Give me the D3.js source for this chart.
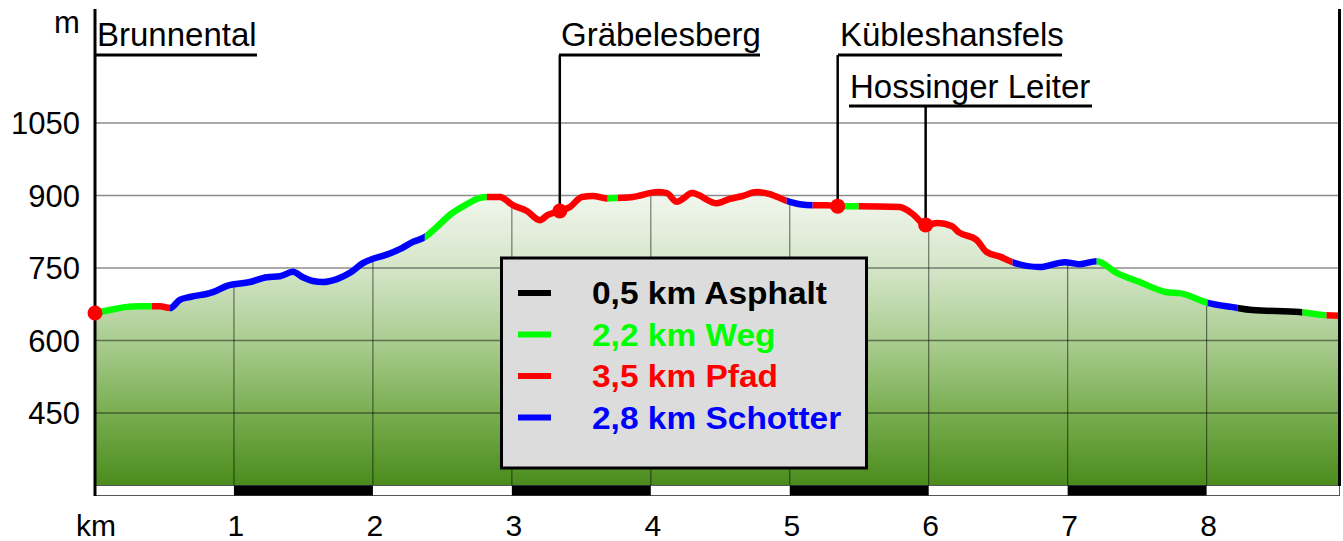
<!DOCTYPE html>
<html>
<head>
<meta charset="utf-8">
<script src="https://cdn.jsdelivr.net/npm/d3@7"></script>
<style>
  html, body { margin: 0; padding: 0; background: #fff; }
  svg { display: block; }
  text { font-family: "Liberation Sans", Arial, sans-serif; }
</style>
</head>
<body>
<svg id="chart" width="1343" height="541"></svg>
<script>
// ---------- data ----------
const profileKm   = [0, 0.108, 0.216, 0.324, 0.41, 0.468, 0.54, 0.61, 0.683, 0.849, 0.95, 1.115, 1.237, 1.331, 1.424, 1.496, 1.568, 1.64, 1.741, 1.835, 1.928, 2.0, 2.072, 2.194, 2.288, 2.374, 2.46, 2.554, 2.676, 2.77, 2.82, 2.914, 3.007, 3.108, 3.201, 3.259, 3.345, 3.417, 3.504, 3.583, 3.683, 3.763, 3.871, 4.05, 4.115, 4.187, 4.23, 4.295, 4.475, 4.568, 4.662, 4.763, 4.856, 4.978, 5.072, 5.165, 5.266, 5.345, 5.496, 5.791, 5.892, 5.978, 6.065, 6.165, 6.216, 6.345, 6.417, 6.518, 6.604, 6.799, 6.978, 7.086, 7.209, 7.353, 7.518, 7.712, 7.806, 8.007, 8.187, 8.331, 8.669, 8.835, 8.96];
const profileElev = [657, 663, 669, 671, 671, 671, 667, 684, 690, 700, 713, 721, 731, 733, 742, 731, 723, 721, 727, 740, 760, 769, 775, 789, 804, 814, 835, 860, 882, 895, 897, 897, 880, 868, 849, 860, 868, 876, 897, 899, 894, 895, 897, 907, 905, 887, 893, 905, 884, 893, 899, 907, 903, 889, 882, 880, 880, 878, 878, 876, 860, 839, 843, 837, 824, 808, 783, 773, 762, 752, 762, 758, 764, 740, 721, 700, 698, 678, 669, 663, 659, 653, 651];

const surfaceFrom = [0, 0.41, 0.54, 2.374, 2.82, 3.69, 3.763, 4.978, 5.165, 5.345, 5.496, 6.604, 7.209, 8.007, 8.223, 8.69, 8.863];
const surfaceTo   = [0.41, 0.54, 2.374, 2.82, 3.69, 3.763, 4.978, 5.165, 5.345, 5.496, 6.604, 7.209, 8.007, 8.223, 8.69, 8.863, 8.96];
const surfaceType = ["Weg", "Pfad", "Schotter", "Weg", "Pfad", "Weg", "Pfad", "Schotter", "Pfad", "Weg", "Pfad", "Schotter", "Weg", "Schotter", "Asphalt", "Weg", "Pfad"];

const legendTypes = ["Asphalt", "Weg", "Pfad", "Schotter"];
const legendKm    = ["0,5", "2,2", "3,5", "2,8"];

const placeNames = ["Brunnental", "Gräbelesberg", "Kübleshansfels", "Hossinger Leiter"];
const placeKm    = [0, 3.345, 5.345, 5.978];
const placeElev  = [657, 868, 878, 839];

const yTicks = [450, 600, 750, 900, 1050];
const xTicks = [1, 2, 3, 4, 5, 6, 7, 8];

// ---------- styles / layout ----------
(function () {
const colors = { Asphalt: "#000000", Weg: "#00ff00", Pfad: "#ff0000", Schotter: "#0000ff" };
const svg = d3.select("#chart");
const x = d3.scaleLinear().domain([0, 8.96]).range([95, 1340]);
const y = d3.scaleLinear().domain([300, 1050]).range([485.5, 123]);
const pTop = 9, pBottom = 485.5, pLeft = 95, pRight = 1339.5;

const pts = profileKm.map((k, i) => [k, profileElev[i]]);
const defs = svg.append("defs");

const grad = defs.append("linearGradient").attr("id", "fillGrad")
  .attr("gradientUnits", "userSpaceOnUse").attr("x1", 0).attr("x2", 0).attr("y1", 188).attr("y2", 486);
[[0, "#f4f8f1"], [0.27, "#d4e5c8"], [0.52, "#a9cc8f"], [0.76, "#78ad4f"], [1, "#4a8b1c"]]
  .forEach(([o, c]) => grad.append("stop").attr("offset", o).attr("stop-color", c));

const curve = d3.curveMonotoneX;
const area = d3.area().x(d => x(d[0])).y0(pBottom).y1(d => y(d[1])).curve(curve);
const line = d3.line().x(d => x(d[0])).y(d => y(d[1])).curve(curve);

defs.append("clipPath").attr("id", "areaClip").append("path").attr("d", area(pts));

// area fill
svg.append("path").attr("d", area(pts)).attr("fill", "url(#fillGrad)");

// vertical gridlines (inside area only)
svg.append("g").attr("clip-path", "url(#areaClip)")
  .selectAll("line").data(xTicks).join("line")
  .attr("x1", d => x(d)).attr("x2", d => x(d)).attr("y1", pTop).attr("y2", pBottom)
  .attr("stroke", "#000").attr("stroke-opacity", 0.5).attr("stroke-width", 1.2);

// horizontal gridlines
svg.append("g").selectAll("line").data(yTicks).join("line")
  .attr("x1", pLeft).attr("x2", pRight + 1).attr("y1", d => y(d)).attr("y2", d => y(d))
  .attr("stroke", "#000").attr("stroke-opacity", 0.45).attr("stroke-width", 1.5);

// profile line segments, coloured by surface type
surfaceType.forEach((t, i) => {
  const id = "seg" + i;
  defs.append("clipPath").attr("id", id).append("rect")
    .attr("x", x(surfaceFrom[i])).attr("width", x(surfaceTo[i]) - x(surfaceFrom[i]))
    .attr("y", 0).attr("height", 541);
  svg.append("path").attr("d", line(pts)).attr("clip-path", `url(#${id})`)
    .attr("fill", "none").attr("stroke", colors[t]).attr("stroke-width", 6.5)
    .attr("stroke-linejoin", "round").attr("stroke-linecap", "round");
});

// bottom km scale bar
const bar = svg.append("g");
bar.append("rect").attr("x", pLeft).attr("y", 485.5).attr("width", pRight - pLeft).attr("height", 10)
  .attr("fill", "#fff").attr("stroke", "#555").attr("stroke-width", 1);
bar.selectAll("rect.blk").data([1, 3, 5, 7]).join("rect").attr("class", "blk")
  .attr("x", d => x(d)).attr("y", 485.5).attr("width", d => x(d + 1) - x(d)).attr("height", 10)
  .attr("fill", "#000");

// frame lines
svg.append("line").attr("x1", pLeft).attr("x2", pLeft).attr("y1", pTop).attr("y2", 496)
  .attr("stroke", "#000").attr("stroke-width", 3);
svg.append("line").attr("x1", pRight).attr("x2", pRight).attr("y1", pTop).attr("y2", 486)
  .attr("stroke", "#000").attr("stroke-width", 3);

// y tick labels
svg.append("g").selectAll("text").data(yTicks).join("text")
  .attr("x", 80).attr("y", d => y(d)).attr("dy", "0.36em").attr("text-anchor", "end")
  .attr("font-size", 31).attr("fill", "#000").text(d => d);
svg.append("text").attr("x", 67).attr("y", 33).attr("text-anchor", "middle")
  .attr("font-size", 31).text("m");

// x tick labels
svg.append("g").selectAll("text").data(xTicks).join("text")
  .attr("x", d => x(d) + 2).attr("y", 536).attr("text-anchor", "middle")
  .attr("font-size", 30).text(d => d);
svg.append("text").attr("x", 96).attr("y", 536).attr("text-anchor", "middle")
  .attr("font-size", 30).text("km");

// place labels with leader lines
const labelLayout = [
  { tx: 97,  ty: 46, uy: 55,  ux1: 95,  ux2: 257 },
  { tx: 561, ty: 46, uy: 55,  ux1: 559, ux2: 760 },
  { tx: 840, ty: 46, uy: 55,  ux1: 838, ux2: 1062 },
  { tx: 850, ty: 98, uy: 106, ux1: 849, ux2: 1092 }
];
const pl = svg.append("g");
placeNames.forEach((n, i) => {
  const L = labelLayout[i];
  pl.append("text").attr("x", L.tx).attr("y", L.ty).attr("font-size", 33).text(n);
  pl.append("line").attr("x1", L.ux1).attr("x2", L.ux2).attr("y1", L.uy).attr("y2", L.uy)
    .attr("stroke", "#000").attr("stroke-width", 3);
  if (i > 0) {
    pl.append("line").attr("x1", x(placeKm[i])).attr("x2", x(placeKm[i]))
      .attr("y1", L.uy).attr("y2", y(placeElev[i]))
      .attr("stroke", "#000").attr("stroke-width", 2.5);
  }
});
pl.selectAll("circle").data(placeKm).join("circle")
  .attr("cx", d => x(d)).attr("cy", (d, i) => y(placeElev[i])).attr("r", 7.5).attr("fill", "#ff0000");

// legend
const lg = svg.append("g");
lg.append("rect").attr("x", 501.5).attr("y", 258).attr("width", 365).attr("height", 210)
  .attr("fill", "#dcdcdc").attr("stroke", "#000").attr("stroke-width", 3);
legendTypes.forEach((t, i) => {
  const cy = 293 + i * 41.5;
  lg.append("line").attr("x1", 518).attr("x2", 551).attr("y1", cy).attr("y2", cy)
    .attr("stroke", colors[t]).attr("stroke-width", 6);
  lg.append("text").attr("transform", `translate(592,${cy + 11}) scale(1.08,1)`)
    .attr("font-size", 31).attr("font-weight", "bold").attr("fill", colors[t])
    .text(`${legendKm[i]} km ${t}`);
});
})();
</script>
</body>
</html>
